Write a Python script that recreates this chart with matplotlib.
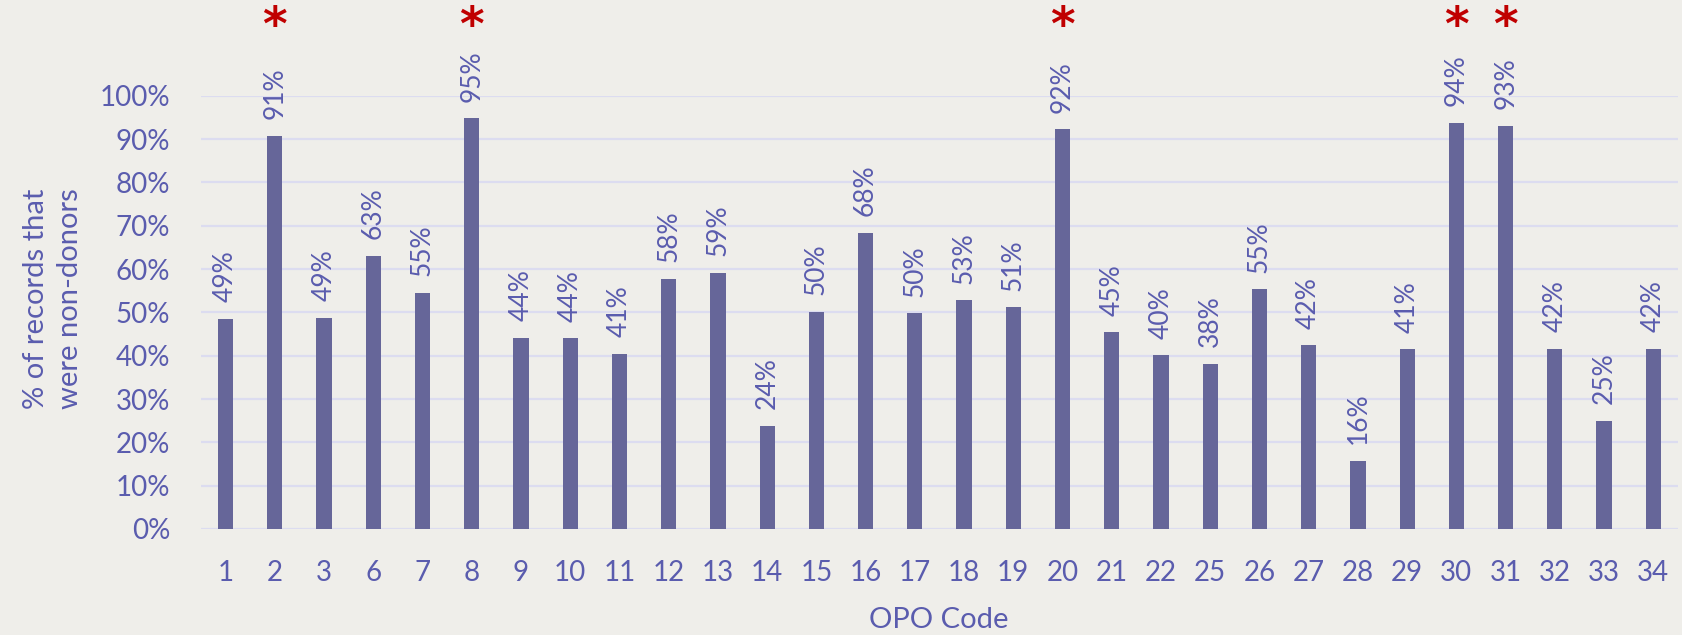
import matplotlib
matplotlib.use("Agg")
import matplotlib.pyplot as plt
import numpy as np

plt.rcParams['font.family'] = ['Lato', 'DejaVu Sans']

# OPO codes and share of records that were non-donors
opo_codes = ['1', '2', '3', '6', '7', '8', '9', '10', '11', '12', '13', '14', '15', '16', '17',
             '18', '19', '20', '21', '22', '25', '26', '27', '28', '29', '30', '31', '32', '33', '34']
pct_values = [48.5, 90.7, 48.7, 63.0, 54.5, 94.8, 44.2, 44.0, 40.5, 57.8, 59.2, 23.8, 50.2, 68.4, 49.8,
              52.8, 51.2, 92.3, 45.4, 40.1, 38.2, 55.3, 42.4, 15.7, 41.5, 93.8, 93.1, 41.6, 24.9, 41.6]
value_labels = ['49%', '91%', '49%', '63%', '55%', '95%', '44%', '44%', '41%', '58%', '59%', '24%', '50%', '68%', '50%',
                '53%', '51%', '92%', '45%', '40%', '38%', '55%', '42%', '16%', '41%', '94%', '93%', '42%', '25%', '42%']
flagged = ['2', '8', '20', '30', '31']

bar_col = '#666699'
txt_col = '#5a5cae'
grid_col = '#dcdcf0'
bg_col = '#efeeea'

fig = plt.figure(figsize=(16.83, 6.35), dpi=100)
fig.patch.set_facecolor(bg_col)
ax = fig.add_axes([0.1194, 0.167, 0.8776, 0.682])
ax.set_facecolor('none')

x = np.arange(len(opo_codes))
ax.bar(x, np.array(pct_values) / 100.0, width=0.31, color=bar_col, zorder=3)

ax.set_xlim(-0.5, len(opo_codes) - 0.5)
ax.set_ylim(0, 1.0)
ax.set_yticks(np.arange(0, 1.01, 0.1))
ax.set_yticklabels(['%d%%' % v for v in range(0, 101, 10)])
ax.set_xticks(x)
ax.set_xticklabels(opo_codes)
ax.tick_params(axis='both', length=0, labelsize=20, colors=txt_col)
ax.tick_params(axis='x', pad=22)
ax.tick_params(axis='y', pad=22)
ax.grid(axis='y', color=grid_col, lw=1.6, zorder=0)
for s in ax.spines.values():
    s.set_visible(False)

# value labels, rotated, above each bar
for xi, v, lab in zip(x, pct_values, value_labels):
    ax.annotate(lab, (xi, v / 100.0), xytext=(0, 12), textcoords='offset points',
                rotation=90, ha='center', va='bottom', fontsize=19, color=txt_col,
                annotation_clip=False)

# red asterisks over the flagged OPOs
trans = ax.get_xaxis_transform()
for xi, code in zip(x, opo_codes):
    if code in flagged:
        ax.text(xi, 1.158, '*', transform=trans, ha='center', va='center',
                fontsize=34, fontweight='bold', color='#c00000',
                family=['DejaVu Sans'], clip_on=False)

fig.text(0.5575, 0.024, 'OPO Code', ha='center', va='center', fontsize=21, color=txt_col)
fig.text(0.0315, 0.53, '% of records that\nwere non-donors', ha='center', va='center',
         rotation=90, fontsize=21, color=txt_col, linespacing=1.4)

fig.savefig('out.png', dpi=100, facecolor=fig.get_facecolor())
